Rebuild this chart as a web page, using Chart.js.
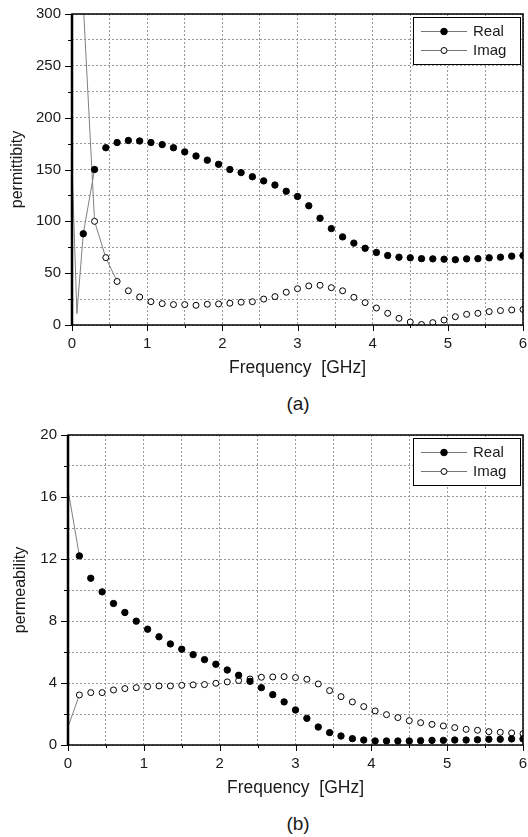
<!DOCTYPE html>
<html>
<head>
<meta charset="utf-8">
<script src="https://cdn.jsdelivr.net/npm/chart.js@4.4.1/dist/chart.umd.min.js"></script>
<style>
  body { margin: 0; background: #fff; width: 528px; height: 837px; overflow: hidden; position: relative; font-family: "Liberation Sans", Arial, sans-serif; }
  canvas { position: absolute; left: 0; }
  .cap { position: absolute; left: 0; width: 596px; text-align: center; font-size: 19px; line-height: 22px; color: #1a1a1a; }
</style>
</head>
<body>
<canvas id="permChart" width="528" height="380" style="top:0"></canvas>
<canvas id="permeChart" width="528" height="380" style="top:420px"></canvas>
<div class="cap" style="top:393px">(a)</div>
<div class="cap" style="top:813px">(b)</div>
<script>
"use strict";

// frequencies where markers are plotted (GHz)
var freq = [0.15, 0.30, 0.45, 0.60, 0.75, 0.90, 1.05, 1.20, 1.35, 1.50,
            1.65, 1.80, 1.95, 2.10, 2.25, 2.40, 2.55, 2.70, 2.85, 3.00,
            3.15, 3.30, 3.45, 3.60, 3.75, 3.90, 4.05, 4.20, 4.35, 4.50,
            4.65, 4.80, 4.95, 5.10, 5.25, 5.40, 5.55, 5.70, 5.85, 6.00];

// (a) permittivity
var epsReal = [88, 150, 171, 176, 178, 177.5, 176, 174, 171, 167,
               163, 159, 155, 150, 147, 143, 139, 135, 129, 124,
               115, 103, 93, 85, 79, 74, 70, 67, 65.4, 64.8,
               64, 63.8, 63.5, 63, 63.8, 64, 64.8, 65.4, 66.4, 67];
var epsImag = [310, 100, 65, 42, 33, 27, 22.5, 20.6, 19.7, 19.7,
               19, 20, 20.3, 21, 22, 22.5, 25, 27.4, 31.6, 35,
               37.7, 38.3, 36, 33, 26.7, 21.6, 16.4, 11.3, 6.4, 2.9,
               0.5, 2.3, 4.8, 8, 10.3, 11.3, 12.9, 13.9, 14.5, 15];
// low-frequency part of the curves, seen only as line
var epsRealLeadFreq = [0, 0.065];
var epsRealLeadVal = [155, 11];
var epsImagLeadFreq = [];
var epsImagLeadVal = [];

// (b) permeability
var muReal = [12.2, 10.76, 9.88, 9.13, 8.55, 7.99, 7.47, 6.98, 6.52, 6.18,
              5.83, 5.51, 5.21, 4.84, 4.5, 4.11, 3.70, 3.25, 2.78, 2.26,
              1.72, 1.16, 0.80, 0.58, 0.41, 0.32, 0.26, 0.26, 0.26, 0.26,
              0.28, 0.30, 0.30, 0.32, 0.32, 0.34, 0.37, 0.37, 0.39, 0.39];
var muImag = [3.23, 3.38, 3.38, 3.55, 3.64, 3.70, 3.77, 3.81, 3.81, 3.85,
              3.88, 3.90, 3.98, 4.07, 4.16, 4.26, 4.37, 4.39, 4.41, 4.35,
              4.24, 3.94, 3.51, 3.12, 2.78, 2.48, 2.20, 1.96, 1.77, 1.57,
              1.44, 1.33, 1.23, 1.12, 1.01, 0.95, 0.86, 0.82, 0.78, 0.73];
var muRealLeadFreq = [0.01];
var muRealLeadVal = [16.2];
var muImagLeadFreq = [0.01];
var muImagLeadVal = [1.3];

// axes
var freqTicks = [0, 0.5, 1, 1.5, 2, 2.5, 3, 3.5, 4, 4.5, 5, 5.5, 6];
var freqLabels = [0, 1, 2, 3, 4, 5, 6];
var epsTicks = [0, 25, 50, 75, 100, 125, 150, 175, 200, 225, 250, 275, 300];
var epsLabels = [0, 50, 100, 150, 200, 250, 300];
var muTicks = [0, 2, 4, 6, 8, 10, 12, 14, 16, 18, 20];
var muLabels = [0, 4, 8, 12, 16, 20];

var FONT = '"Liberation Sans", Arial, sans-serif';
var TXT = "#1a1a1a";
var LINE = "#808080";

function pts(leadX, leadY, xs, ys) {
    var out = [];
    for (var i = 0; i < leadX.length; i++) out.push({ x: leadX[i], y: leadY[i], m: false });
    for (var j = 0; j < xs.length; j++) out.push({ x: xs[j], y: ys[j], m: true });
    return out;
}

// Origin-style line+symbol: the line only shows where points are far apart
function segColor(ctx) {
    var dx = ctx.p1.x - ctx.p0.x, dy = ctx.p1.y - ctx.p0.y;
    return Math.sqrt(dx * dx + dy * dy) > 26 ? LINE : "rgba(0,0,0,0)";
}

var framePlugin = {
    id: "frame",
    afterDraw: function (chart) {
        var a = chart.chartArea, c = chart.ctx;
        var xs = chart.scales.x, ys = chart.scales.y;
        var xl = chart.options.scales.x.labelList, yl = chart.options.scales.y.labelList;
        c.save();
        c.strokeStyle = "#000";
        c.lineWidth = 1;
        xs.ticks.forEach(function (t) {
            var px = Math.round(xs.getPixelForValue(t.value)) + 0.5;
            var len = xl.indexOf(t.value) >= 0 ? 6 : 3;
            c.beginPath(); c.moveTo(px, a.bottom); c.lineTo(px, a.bottom + len); c.stroke();
        });
        ys.ticks.forEach(function (t) {
            var py = Math.round(ys.getPixelForValue(t.value)) + 0.5;
            var len = yl.indexOf(t.value) >= 0 ? 7 : 4;
            c.beginPath(); c.moveTo(a.left, py); c.lineTo(a.left - len, py); c.stroke();
        });
        c.lineWidth = 1.5;
        c.strokeRect(a.left, a.top, a.right - a.left, a.bottom - a.top);
        c.lineWidth = 2.5;
        c.beginPath(); c.moveTo(a.left, a.top); c.lineTo(a.left, a.bottom); c.stroke();
        c.restore();
    }
};

var legendPlugin = {
    id: "boxLegend",
    afterDraw: function (chart) {
        var a = chart.chartArea, c = chart.ctx;
        var w = 107, h = 47, x = a.right - 110, y = a.top + 3;
        c.save();
        c.fillStyle = "#fff";
        c.fillRect(x, y, w, h);
        c.strokeStyle = "#000";
        c.lineWidth = 1;
        c.strokeRect(x + 0.5, y + 0.5, w, h);
        chart.data.datasets.forEach(function (ds, i) {
            var ry = y + 14 + i * 19;
            c.strokeStyle = "#777";
            c.lineWidth = 1;
            c.beginPath(); c.moveTo(x + 8, ry + 0.5); c.lineTo(x + 54, ry + 0.5); c.stroke();
            c.beginPath();
            c.arc(x + 31, ry + 0.5, ds.legendRadius, 0, Math.PI * 2);
            c.fillStyle = ds.pointBackgroundColor;
            c.fill();
            c.strokeStyle = "#000";
            c.stroke();
            c.fillStyle = TXT;
            c.font = "15px " + FONT;
            c.textAlign = "left";
            c.textBaseline = "middle";
            c.fillText(ds.label, x + 60, ry + 1);
        });
        c.restore();
    }
};

function makeChart(id, o) {
    return new Chart(document.getElementById(id), {
        type: "line",
        data: {
            datasets: [
                {
                    label: "Real",
                    data: o.real,
                    borderColor: LINE,
                    borderWidth: 1,
                    pointBackgroundColor: "#000",
                    pointBorderColor: "#000",
                    pointBorderWidth: 1,
                    legendRadius: 3.3,
                    pointRadius: function (ctx) { return ctx.raw && ctx.raw.m ? 3.2 : 0; },
                    segment: { borderColor: segColor },
                },
                {
                    label: "Imag",
                    data: o.imag,
                    borderColor: LINE,
                    borderWidth: 1,
                    pointBackgroundColor: "#fff",
                    pointBorderColor: "#000",
                    pointBorderWidth: 1,
                    legendRadius: 3,
                    pointRadius: function (ctx) { return ctx.raw && ctx.raw.m ? 3 : 0; },
                    segment: { borderColor: segColor },
                },
            ],
        },
        options: {
            responsive: false,
            animation: false,
            events: [],
            layout: { padding: { top: o.top, right: o.right, left: 0, bottom: 0 } },
            plugins: { legend: { display: false }, tooltip: { enabled: false } },
            scales: {
                x: {
                    type: "linear",
                    min: 0,
                    max: 6,
                    labelList: freqLabels,
                    afterBuildTicks: function (axis) {
                        axis.ticks = freqTicks.map(function (v) { return { value: v }; });
                    },
                    afterFit: function (axis) {
                        axis.height = 55;
                        axis.paddingLeft = 0;
                        axis.paddingRight = 0;
                    },
                    ticks: {
                        autoSkip: false,
                        maxRotation: 0,
                        padding: 10,
                        color: TXT,
                        font: { size: 15, family: FONT },
                        callback: function (v) { return freqLabels.indexOf(v) >= 0 ? String(v) : ""; },
                    },
                    grid: { color: "#999", lineWidth: 1, drawTicks: false },
                    border: { display: false, dash: [2, 2] },
                    title: {
                        display: true,
                        text: "Frequency  [GHz]",
                        color: TXT,
                        font: { size: 17.5, family: FONT },
                        padding: { top: 0, bottom: 1 },
                    },
                },
                y: {
                    min: 0,
                    max: o.ymax,
                    labelList: o.yLabels,
                    afterBuildTicks: function (axis) {
                        axis.ticks = o.yTicks.map(function (v) { return { value: v }; });
                    },
                    afterFit: function (axis) {
                        axis.width = o.yw;
                        axis.paddingTop = 0;
                        axis.paddingBottom = 0;
                    },
                    ticks: {
                        autoSkip: false,
                        padding: 11,
                        color: TXT,
                        font: { size: 15, family: FONT },
                        callback: function (v) { return o.yLabels.indexOf(v) >= 0 ? String(v) : ""; },
                    },
                    grid: { color: "#999", lineWidth: 1, drawTicks: false },
                    border: { display: false, dash: [2, 2] },
                    title: {
                        display: true,
                        text: o.yTitle,
                        color: TXT,
                        font: { size: 16, family: FONT },
                        padding: { top: o.titlePad, bottom: 0 },
                    },
                },
            },
        },
        plugins: [framePlugin, legendPlugin],
    });
}

makeChart("permChart", {
    real: pts(epsRealLeadFreq, epsRealLeadVal, freq, epsReal),
    imag: pts(epsImagLeadFreq, epsImagLeadVal, freq, epsImag),
    ymax: 300,
    yTicks: epsTicks,
    yLabels: epsLabels,
    yTitle: "permittibity",
    yw: 72,
    top: 14,
    right: 3,
    titlePad: 8,
});

makeChart("permeChart", {
    real: pts(muRealLeadFreq, muRealLeadVal, freq, muReal),
    imag: pts(muImagLeadFreq, muImagLeadVal, freq, muImag),
    ymax: 20,
    yTicks: muTicks,
    yLabels: muLabels,
    yTitle: "permeability",
    yw: 68,
    top: 15,
    right: 2,
    titlePad: 11,
});
</script>
</body>
</html>
